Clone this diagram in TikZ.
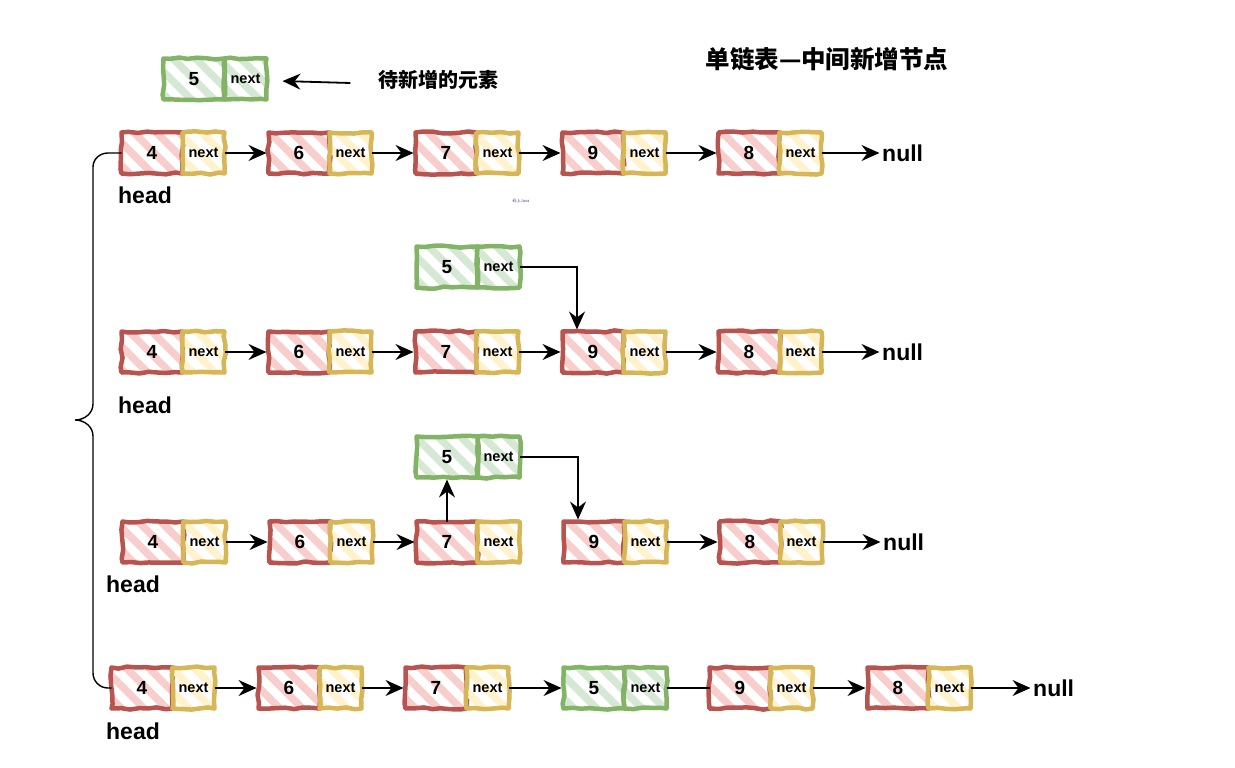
\documentclass[tikz,border=0pt]{standalone}
\usepackage{fontspec}
\setmainfont{Liberation Sans}
\newfontfamily\cjk{Noto Sans CJK SC}
\usetikzlibrary{positioning,arrows.meta,patterns.meta,decorations.pathmorphing}
\definecolor{redline}{HTML}{B85450}
\definecolor{redfill}{HTML}{F8CECC}
\definecolor{yelline}{HTML}{D6B656}
\definecolor{yelfill}{HTML}{FFF2CC}
\definecolor{grnline}{HTML}{82B366}
\definecolor{grnfill}{HTML}{D5E8D4}
\definecolor{wmark}{HTML}{3A4A78}

\begin{document}
\begin{tikzpicture}[x=1pt,y=-1pt,
      box/.style = {rectangle, minimum height=41pt, inner sep=0pt, outer sep=0pt,
                    line width=4.5pt, line join=round, decorate,
                    decoration={random steps, segment length=9pt, amplitude=1.1pt}},
      val/.style = {box, minimum width=61pt, font=\bfseries\fontsize{19}{19}\selectfont},
      nxt/.style = {box, minimum width=42pt, font=\bfseries\fontsize{14.5}{15}\selectfont},
      vr/.style = {val, draw=redline, pattern={Lines[angle=-45,distance=16pt,line width=7.5pt]}, pattern color=redfill},
      vg/.style = {val, draw=grnline, pattern={Lines[angle=-45,distance=16pt,line width=7.5pt]}, pattern color=grnfill},
      ny/.style = {nxt, draw=yelline, pattern={Lines[angle=-45,distance=16pt,line width=7.5pt]}, pattern color=yelfill},
      ng/.style = {nxt, draw=grnline, pattern={Lines[angle=-45,distance=16pt,line width=7.5pt]}, pattern color=grnfill},
      hd/.style = {inner sep=0pt, font=\bfseries\fontsize{23}{23}\selectfont},
      nul/.style = {inner sep=0.5pt, font=\bfseries\fontsize{23}{23}\selectfont},
      arr/.style = {-{Stealth[length=18pt,width=16pt,inset=6pt]}, line width=1.8pt, shorten >=2pt},
      plain/.style = {line width=1.8pt},
      auto
      ]
      \useasboundingbox (0,0) rectangle (1235,768);
      \pgfmathsetseed{11}

      % title and the element to insert
      \node[font=\cjk\bfseries\fontsize{24.5}{25}\selectfont] (title) at (827,59) {单链表—中间新增节点};
      \node[vg] (t5) at (194,79) {5};
      \node[ng, right=0pt of t5] (t5n) {next};
      \node[font=\cjk\bfseries\fontsize{20}{20}\selectfont] (wait) at (438,80) {待新增的元素};
      \node[font=\cjk\fontsize{4}{4}\selectfont, text=wmark] (mark) at (521,201) {码上Java};

      % row 1
      \node[vr] (a4) at (152,153) {4};
      \node[ny, right=0pt of a4] (a4n) {next};
      \node[vr, right=44pt of a4n] (a6) {6};
      \node[ny, right=0pt of a6] (a6n) {next};
      \node[vr, right=44pt of a6n] (a7) {7};
      \node[ny, right=0pt of a7] (a7n) {next};
      \node[vr, right=44pt of a7n] (a9) {9};
      \node[ny, right=0pt of a9] (a9n) {next};
      \node[vr, right=53pt of a9n] (a8) {8};
      \node[ny, right=0pt of a8] (a8n) {next};
      \node[nul, right=60pt of a8n] (anull) {null};
      \node[hd, below=13pt of a4, xshift=-7pt] (ahead) {head};

      % row 2
      \node[vg] (b5) at (447,267) {5};
      \node[ng, right=0pt of b5] (b5n) {next};
      \node[vr] (b4) at (152,352) {4};
      \node[ny, right=0pt of b4] (b4n) {next};
      \node[vr, right=44pt of b4n] (b6) {6};
      \node[ny, right=0pt of b6] (b6n) {next};
      \node[vr, right=44pt of b6n] (b7) {7};
      \node[ny, right=0pt of b7] (b7n) {next};
      \node[vr, right=44pt of b7n] (b9) {9};
      \node[ny, right=0pt of b9] (b9n) {next};
      \node[vr, right=53pt of b9n] (b8) {8};
      \node[ny, right=0pt of b8] (b8n) {next};
      \node[nul, right=60pt of b8n] (bnull) {null};
      \node[hd, below=24pt of b4, xshift=-7pt] (bhead) {head};

      % row 3
      \node[vg] (c5) at (447,457) {5};
      \node[ng, right=0pt of c5] (c5n) {next};
      \node[vr] (c4) at (153,542) {4};
      \node[ny, right=0pt of c4] (c4n) {next};
      \node[vr, right=44pt of c4n] (c6) {6};
      \node[ny, right=0pt of c6] (c6n) {next};
      \node[vr, right=44pt of c6n] (c7) {7};
      \node[ny, right=0pt of c7] (c7n) {next};
      \node[vr, right=44pt of c7n] (c9) {9};
      \node[ny, right=0pt of c9] (c9n) {next};
      \node[vr, right=53pt of c9n] (c8) {8};
      \node[ny, right=0pt of c8] (c8n) {next};
      \node[nul, right=60pt of c8n] (cnull) {null};
      \node[hd, below=13pt of c4, xshift=-20pt] (chead) {head};

      % row 4
      \node[vr] (d4) at (142,688) {4};
      \node[ny, right=0pt of d4] (d4n) {next};
      \node[vr, right=44pt of d4n] (d6) {6};
      \node[ny, right=0pt of d6] (d6n) {next};
      \node[vr, right=44pt of d6n] (d7) {7};
      \node[ny, right=0pt of d7] (d7n) {next};
      \node[vg, right=55pt of d7n] (d5) {5};
      \node[ng, right=0pt of d5] (d5n) {next};
      \node[vr, right=43pt of d5n] (d9) {9};
      \node[ny, right=0pt of d9] (d9n) {next};
      \node[vr, right=55pt of d9n] (d8) {8};
      \node[ny, right=0pt of d8] (d8n) {next};
      \node[nul, right=62pt of d8n] (dnull) {null};
      \node[hd, below=14pt of d4, xshift=-9pt] (dhead) {head};

      % links
      \draw[arr] ([xshift=-24pt,yshift=-3pt]wait.west) -- ([xshift=14pt,yshift=-2pt]t5n.east);
      \draw[arr] (a4n) -- (a6);
      \draw[arr] (a6n) -- (a7);
      \draw[arr] (a7n) -- (a9);
      \draw[arr] (a9n) -- (a8);
      \draw[arr] (a8n) -- (anull);
      \draw[arr] (b4n) -- (b6);
      \draw[arr] (b6n) -- (b7);
      \draw[arr] (b7n) -- (b9);
      \draw[arr] (b9n) -- (b8);
      \draw[arr] (b8n) -- (bnull);
      \draw[arr] (b5n.east) -| ([xshift=-16pt]b9.north);
      \draw[arr] (c4n) -- (c6);
      \draw[arr] (c6n) -- (c7);
      \draw[arr] (c7) -- (c5);
      \draw[arr] (c5n.east) -| ([xshift=-16pt]c9.north);
      \draw[arr] (c9n) -- (c8);
      \draw[arr] (c8n) -- (cnull);
      \draw[arr] (d4n) -- (d6);
      \draw[arr] (d6n) -- (d7);
      \draw[arr] (d7n) -- (d5);
      \draw[plain] (d5n) -- (d9);
      \draw[arr] (d9n) -- (d8);
      \draw[arr] (d8n) -- (dnull);

      % brace over the four rows
      \draw[line width=1.4pt] (a4.west) -- (108,153) to[out=180,in=90] (93,167)
        -- (93,404) to[out=-90,in=0] (75,420) to[out=0,in=90] (93,436)
        -- (93,673) to[out=-90,in=180] (108,688) -- (d4.west);
\end{tikzpicture}
\end{document}
